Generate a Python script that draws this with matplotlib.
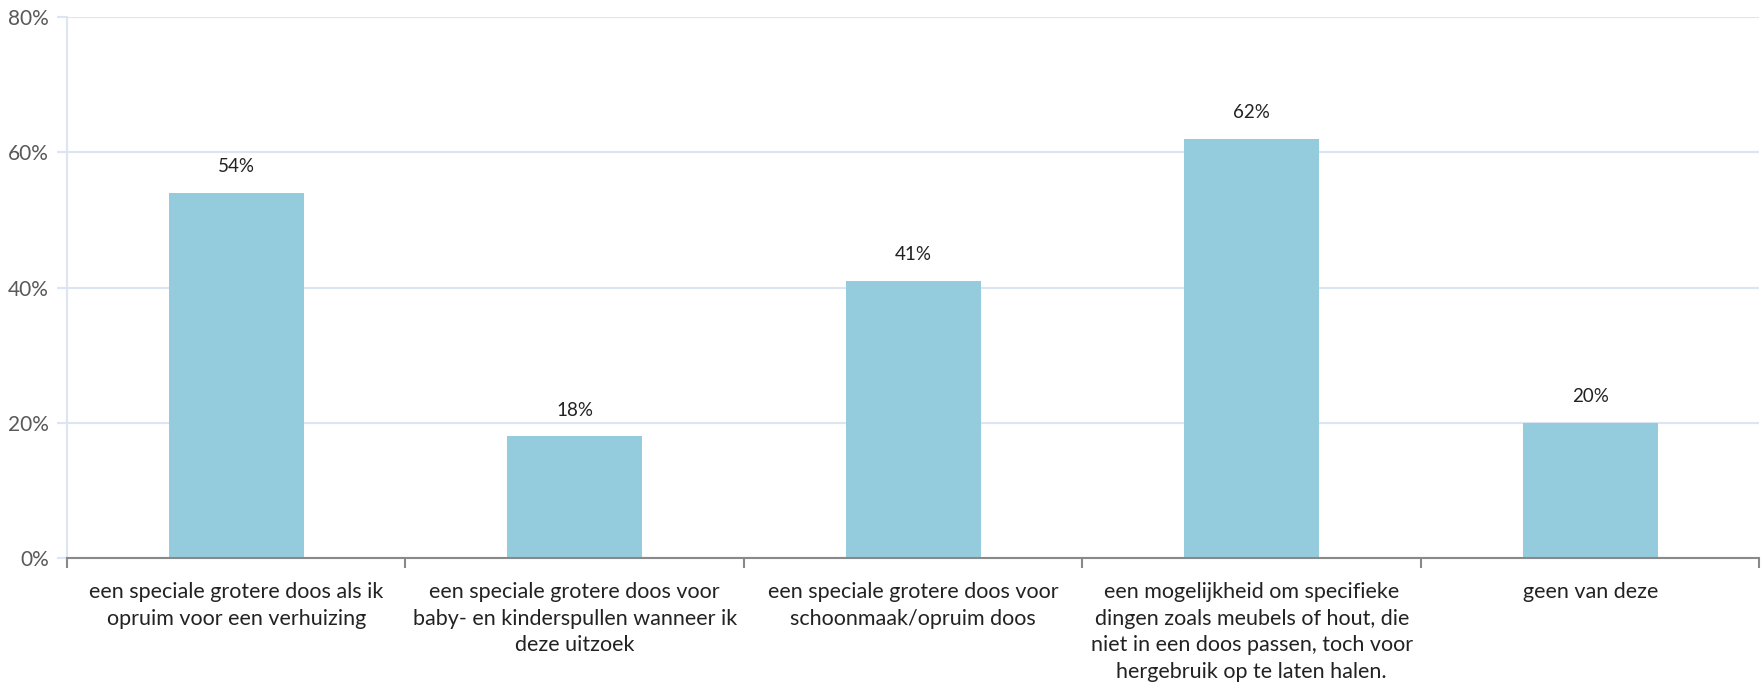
import matplotlib
matplotlib.use("Agg")
import matplotlib.pyplot as plt
from matplotlib.ticker import FuncFormatter

categories = [
    "een speciale grotere doos als ik\nopruim voor een verhuizing",
    "een speciale grotere doos voor\nbaby- en kinderspullen wanneer ik\ndeze uitzoek",
    "een speciale grotere doos voor\nschoonmaak/opruim doos",
    "een mogelijkheid om specifieke\ndingen zoals meubels of hout, die\nniet in een doos passen, toch voor\nhergebruik op te laten halen.",
    "geen van deze",
]
values = [54, 18, 41, 62, 20]
yticks = [0, 20, 40, 60, 80]

plt.rcParams['font.family'] = ['Lato', 'DejaVu Sans']

fig = plt.figure(figsize=(17.63, 6.90), dpi=100)
ax = fig.add_axes([0.038, 0.191, 0.960, 0.784])

x = list(range(len(values)))
ax.bar(x, values, width=0.4, color="#95CCDD", zorder=3)
for xi, v in zip(x, values):
    ax.text(xi, v + 2.6, f"{v}%", ha="center", va="bottom", fontsize=13.5, color="#222222")

ax.set_xlim(-0.5, len(values) - 0.5)
ax.set_ylim(0, 80)
ax.set_yticks(yticks)
ax.yaxis.set_major_formatter(FuncFormatter(lambda v, p: f"{int(v)}%"))
ax.grid(axis="y", color="#DCE6F2", linewidth=1.5, zorder=0)
ax.set_xticks(x)
ax.set_xticklabels(categories, fontsize=15.5, color="#222222", linespacing=1.42)
ax.set_xticks([i + 0.5 for i in range(-1, len(values))], minor=True)
ax.tick_params(axis="x", which="major", length=0, pad=17)
ax.tick_params(axis="x", which="minor", length=7, color="#898989", width=1.5)
ax.tick_params(axis="y", length=7, color="#DCE6F2", width=1.5, labelsize=15, labelcolor="#595959", pad=6)

for s in ["top", "right"]:
    ax.spines[s].set_visible(False)
ax.spines["left"].set_color("#DCE6F2")
ax.spines["left"].set_linewidth(1.5)
ax.spines["bottom"].set_color("#898989")
ax.spines["bottom"].set_linewidth(1.5)
ax.spines["bottom"].set_zorder(4)

fig.savefig("out.png", dpi=100, facecolor="white")
